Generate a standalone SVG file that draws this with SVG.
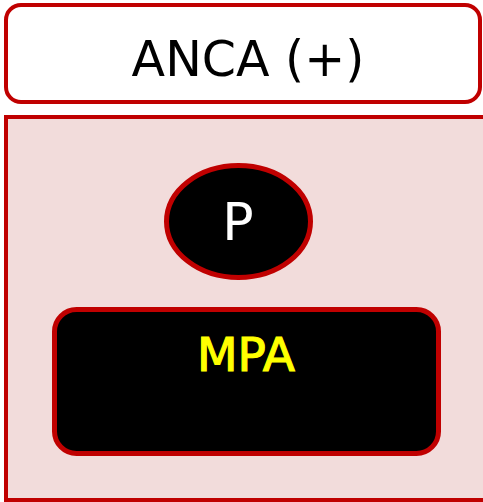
<svg xmlns="http://www.w3.org/2000/svg" width="483" height="502" viewBox="0 0 483 502">
<style>
.box{stroke:#C00000;stroke-width:4}
.inner{stroke:#C00000;stroke-width:5;fill:#000}
text{font-family:"DejaVu Sans","Liberation Sans",sans-serif;text-anchor:middle}
</style>
<rect width="483" height="502" fill="#fff"/>
<g id="header">
<rect class="box" x="6" y="5" width="474" height="97" rx="15" fill="#fff"/>
<text x="248" y="76" font-size="49" fill="#000">ANCA (+)</text>
</g>
<g id="panel">
<rect class="box" x="6" y="117" width="490" height="383" fill="#F2DCDB"/>
</g>
<g id="connectors"></g>
<g id="node-p">
<ellipse class="inner" cx="238.5" cy="221.5" rx="72" ry="56"/>
<text x="238" y="240" font-size="52" fill="#fff">P</text>
</g>
<g id="node-mpa">
<rect class="inner" x="54.5" y="309.5" width="384" height="144" rx="22"/>
<text x="246" y="371" font-size="47" fill="#FFFF00" stroke="#FFFF00" stroke-width="1.2">MPA</text>
</g>
</svg>
